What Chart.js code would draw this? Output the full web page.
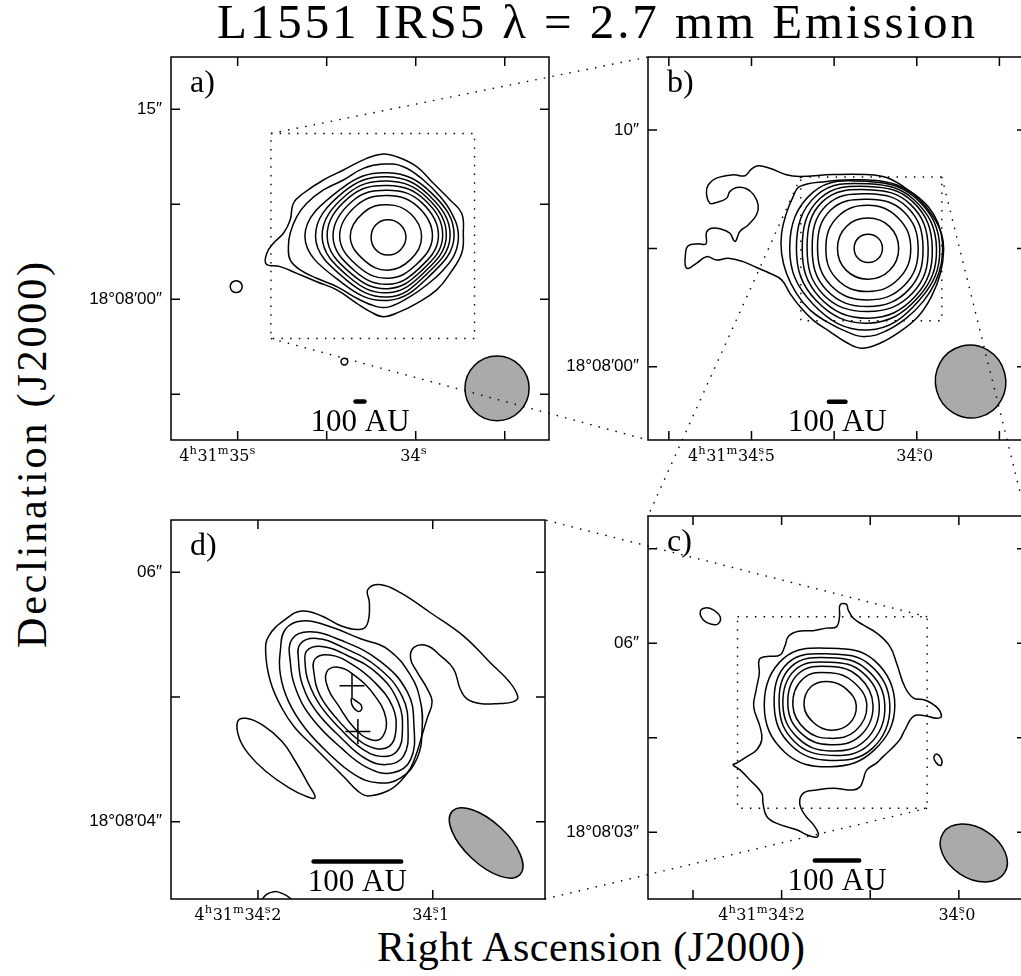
<!DOCTYPE html>
<html>
<head>
<meta charset="utf-8">
<title>L1551 IRS5 2.7 mm Emission</title>
<script src="https://cdn.jsdelivr.net/npm/chart.js@4/dist/chart.umd.min.js"></script>
<style>
  html, body { margin:0; padding:0; background:#fff; }
  body { width:1021px; height:976px; overflow:hidden; position:relative; }
  .pc { position:absolute; }
  #overlay { position:absolute; left:0; top:0; pointer-events:none; }
  #texts { position:absolute; left:0; top:0; }
</style>
</head>
<body>
<svg id="texts" width="1021" height="976" xmlns="http://www.w3.org/2000/svg" font-family="'Liberation Serif', 'DejaVu Serif', serif" fill="#000">
  <text x="217" y="38" font-size="49" textLength="758" lengthAdjust="spacing">L1551 IRS5 λ = 2.7 mm Emission</text>
  <text x="377" y="961" font-size="42" textLength="428" lengthAdjust="spacing">Right Ascension (J2000)</text>
  <text transform="translate(46,648) rotate(-90)" font-size="42" textLength="386" lengthAdjust="spacing">Declination (J2000)</text>
</svg>
<canvas id="panelA" class="pc"></canvas>
<canvas id="panelB" class="pc"></canvas>
<canvas id="panelC" class="pc"></canvas>
<canvas id="panelD" class="pc"></canvas>
<canvas id="overlay" width="1021" height="976"></canvas>
<script>
// Coordinates: x = RA offset in arcsec (east positive) from 4h31m34.0s, y = Dec offset in arcsec from 18°08'00"
const RA_REF_SEC = 34.0;
const ARCSEC_PER_RA_SEC = 14.2545;
const AU100_ARCSEC = 0.714;

// ---------- axis ranges (arcsec) ----------
const xRangeA = [-10.67, 19.59], yRangeA = [-11.11, 19.13];
const xRangeB = [-4.71, 11.59],  yRangeB = [-3.10, 13.09];
const xRangeC = [-1.08, 5.00],   yRangeC = [1.94, 8.02];
const xRangeD = [0.51, 3.56],    yRangeD = [3.38, 6.42];

// ---------- ticks ----------
const raTicksA = [35, 34.5, 34, 33.5];
const raLabelsA = ['4h31m35s', '', '34s', ''];
const decTicksA = [15, 7.5, 0, -7.5];
const decLabelsA = ['15″', '', '18°08′00″', ''];

const raTicksB = [34.75, 34.5, 34.25, 34.0, 33.75];
const raLabelsB = ['', '4h31m34s.5', '', '34s.0', ''];
const decTicksB = [10, 5, 0];
const decLabelsB = ['10″', '', '18°08′00″'];

const raTicksC = [34.3, 34.2, 34.1, 34.0];
const raLabelsC = ['', '4h31m34s.2', '', '34s.0'];
const decTicksC = [7.5, 6, 4.5, 3];
const decLabelsC = ['', '06″', '', '18°08′03″'];

const raTicksD = [34.2, 34.1];
const raLabelsD = ['4h31m34s.2', '34s.1'];
const decTicksD = [6, 5, 4];
const decLabelsD = ['06″', '', '18°08′04″'];

// ---------- contour rings given as radii (arcsec) at these position angles on the map ----------
const ringAngles = [0, 45, 90, 135, 180, 225, 270, 315];

// ---------- panel a ----------
const contourA1 = [[2.59,11.47],[1.52,11.26],[-0.08,10.47],[-1.41,9.16],[-2.75,7.84],[-3.68,6.79],[-3.81,5.21],[-3.68,3.63],[-2.75,2.05],[-1.68,0.74],[-0.08,-0.32],[1.25,-0.97],[2.59,-1.37],[3.65,-0.97],[4.72,-0.32],[6.32,0.74],[7.92,1.39],[9.52,2.05],[10.85,2.58],[11.97,2.79],[11.92,3.63],[11.39,4.42],[10.59,5.21],[10.05,6.26],[9.79,7.58],[8.99,8.37],[7.39,9.42],[5.79,10.21],[3.92,11.13]];
const contourA2 = [[2.59,10.68],[0.99,10.47],[-0.61,9.42],[-1.95,8.11],[-2.88,6.79],[-3.41,5.21],[-3.15,3.63],[-2.21,2.32],[-0.88,1.13],[0.45,0.21],[2.05,-0.58],[3.12,-0.58],[4.72,0.08],[6.32,1.00],[7.92,1.66],[9.25,2.32],[10.05,3.11],[10.19,4.16],[10.05,5.21],[9.52,6.53],[8.72,7.58],[7.39,8.63],[5.79,9.42],[4.19,10.34]];
const ringCenterA = [2.24, 4.95];
const ringRadiiA = [
  [5.31,4.91,5.04,5.31,6.63,5.17,5.04,4.56],
  [4.99,4.64,4.72,4.99,5.78,4.77,4.77,4.30],
  [4.69,4.40,4.38,4.67,5.25,4.46,4.43,4.06],
  [4.40,4.14,4.03,4.38,4.85,4.14,4.11,3.82],
  [4.06,3.82,3.66,3.98,4.38,3.79,3.77,3.55],
  [3.58,3.37,3.24,3.50,3.85,3.34,3.29,3.18],
  [2.71,2.57,2.52,2.71,3.00,2.65,2.65,2.57],
  [1.46,1.38,1.33,1.33,1.33,1.41,1.46,1.46]
];
const isoCentersA = [[14.37, 1.00], [5.71, -4.92]];
const isoRadiiA = [0.48, 0.27];
const beamA = [-6.51, -7.03, 5.15, 5.10, 0];   // x, y, bmaj, bmin, PA
const auBarA = [4.46, -8.08];

// ---------- panel b ----------
const contourB1 = [[5.04,8.04],[3.61,8.12],[2.17,8.12],[1.31,8.00],[0.59,7.62],[-0.13,7.05],[-0.70,6.35],[-1.06,5.64],[-1.16,4.94],[-1.02,3.95],[-0.63,2.96],[-0.06,2.12],[0.73,1.48],[1.59,0.99],[2.39,0.78],[3.03,1.02],[3.75,1.48],[4.47,1.97],[5.04,2.54],[5.47,3.10],[5.83,3.67],[6.34,3.95],[6.91,4.19],[7.49,4.44],[8.13,4.58],[8.64,4.51],[9.07,4.65],[9.50,4.37],[9.93,4.16],[9.97,4.80],[9.86,5.11],[9.43,5.19],[9.09,5.19],[9.07,5.67],[8.85,5.85],[8.42,5.81],[8.06,5.64],[7.84,5.29],[7.63,5.71],[7.27,5.99],[6.91,6.42],[6.84,6.84],[7.03,7.26],[7.34,7.52],[7.77,7.57],[8.06,7.40],[8.20,7.12],[8.64,6.94],[8.92,6.91],[9.07,7.33],[8.99,7.69],[8.64,7.97],[7.92,8.11],[7.41,8.07],[7.13,8.35],[6.84,8.49],[6.34,8.39],[5.62,8.11]];
const contourB2 = [[5.04,7.62],[3.89,7.83],[2.74,7.90],[1.74,7.87],[0.88,7.69],[0.16,7.33],[-0.49,6.77],[-0.92,6.06],[-1.11,5.22],[-1.06,4.37],[-0.78,3.53],[-0.27,2.75],[0.45,2.05],[1.31,1.52],[2.24,1.27],[3.03,1.48],[3.89,1.90],[4.61,2.40],[5.19,3.10],[5.62,3.95],[5.83,4.80],[5.83,5.64],[5.62,6.49],[5.33,7.19]];
const ringCenterB = [2.10, 5.01];
const ringRadiiB = [
  [0.62,0.61,0.59,0.60,0.60,0.61,0.61,0.62],
  [1.32,1.30,1.27,1.31,1.32,1.33,1.31,1.32],
  [1.84,1.82,1.81,1.86,1.82,1.88,1.83,1.85],
  [2.16,2.18,2.07,2.28,2.18,2.25,2.19,2.22],
  [2.37,2.42,2.30,2.55,2.41,2.52,2.47,2.48],
  [2.59,2.60,2.47,2.78,2.63,2.75,2.68,2.70],
  [2.77,2.75,2.61,2.95,2.84,2.95,2.96,2.88],
  [2.95,2.85,2.72,3.15,3.09,3.15,3.17,3.00],
  [3.09,2.95,2.82,3.35,3.38,3.35,3.46,3.12]
];
const beamB = [-2.32, -0.63, 3.12, 3.00, 15];
const auBarB = [3.43, -1.48];

// ---------- panel c ----------
const contourC1 = [[1.91,6.61],[1.81,6.62],[1.78,6.53],[1.70,6.40],[1.54,6.29],[1.32,6.16],[1.11,5.95],[1.00,5.68],[0.87,5.31],[0.73,5.13],[0.55,5.10],[0.36,4.99],[0.28,4.84],[0.36,4.81],[0.55,4.85],[0.73,4.84],[0.87,4.62],[0.95,4.47],[1.08,4.33],[1.22,4.20],[1.32,4.10],[1.48,3.99],[1.54,3.83],[1.59,3.72],[1.70,3.67],[2.02,3.70],[2.29,3.67],[2.50,3.62],[2.56,3.46],[2.48,3.28],[2.34,3.12],[2.26,2.98],[2.29,2.92],[2.45,2.96],[2.61,3.04],[2.93,3.14],[3.09,3.25],[3.15,3.46],[3.17,3.62],[3.36,3.83],[3.52,3.99],[3.63,4.07],[3.57,4.10],[3.41,4.20],[3.25,4.31],[3.17,4.47],[3.20,4.68],[3.30,4.99],[3.26,5.26],[3.21,5.52],[3.21,5.74],[3.09,5.79],[2.88,5.81],[2.80,5.95],[2.74,6.11],[2.58,6.19],[2.34,6.20],[2.13,6.24],[1.97,6.26],[1.92,6.42]];
const contourC2 = [[4.16,6.50],[4.08,6.56],[3.95,6.53],[3.84,6.42],[3.87,6.31],[3.98,6.30],[4.11,6.37]];
const contourC3 = [[0.40,4.20],[0.35,4.24],[0.28,4.16],[0.28,4.07],[0.33,4.07],[0.39,4.14]];
const ringCenterC = [2.07, 5.01];
const ringRadiiC = [
  [0.42,0.37,0.38,0.43,0.42,0.38,0.39,0.42],
  [0.59,0.53,0.52,0.61,0.60,0.55,0.52,0.57],
  [0.69,0.65,0.62,0.72,0.68,0.64,0.62,0.68],
  [0.79,0.74,0.69,0.80,0.76,0.73,0.72,0.79],
  [0.88,0.82,0.76,0.88,0.82,0.81,0.79,0.88],
  [0.96,0.91,0.82,0.96,0.90,0.89,0.87,0.96],
  [1.04,1.01,0.91,1.06,1.06,1.04,0.97,1.00]
];
const beamC = [-0.24, 2.67, 1.17, 0.80, 57];
const auBarC = [1.96, 2.55];

// ---------- panel d ----------
const contourD1 = [[1.955,5.862],[1.848,5.901],[1.686,5.835],[1.444,5.676],[1.176,5.491],[0.960,5.279],[0.799,5.120],[0.732,5.001],[0.772,4.961],[0.880,4.948],[1.041,4.948],[1.149,4.988],[1.202,5.067],[1.256,5.226],[1.364,5.332],[1.471,5.412],[1.579,5.398],[1.606,5.306],[1.552,5.200],[1.471,5.067],[1.431,4.961],[1.471,4.829],[1.512,4.696],[1.552,4.564],[1.606,4.432],[1.686,4.326],[1.794,4.246],[1.955,4.207],[2.036,4.246],[2.143,4.352],[2.278,4.485],[2.412,4.617],[2.546,4.749],[2.654,4.908],[2.748,5.120],[2.788,5.359],[2.762,5.491],[2.627,5.623],[2.493,5.690],[2.331,5.650],[2.170,5.570],[2.009,5.544],[1.955,5.597],[1.942,5.756]];
const contourD2 = [[3.017,4.802],[2.950,4.829],[2.815,4.776],[2.654,4.643],[2.546,4.485],[2.439,4.299],[2.385,4.193],[2.466,4.207],[2.600,4.273],[2.788,4.405],[2.923,4.538],[3.003,4.670]];
const contourD3open = [[2.842,3.333],[2.788,3.411],[2.721,3.439],[2.654,3.425],[2.587,3.386],[2.546,3.333]];
const ringD1 = [[2.627,5.544],[2.493,5.610],[2.278,5.570],[2.009,5.465],[1.794,5.385],[1.606,5.173],[1.525,4.961],[1.512,4.749],[1.552,4.511],[1.686,4.352],[1.874,4.312],[2.063,4.378],[2.278,4.551],[2.466,4.749],[2.600,4.961],[2.667,5.173],[2.667,5.385]];
const ringD2 = [[2.573,5.465],[2.426,5.523],[2.184,5.459],[1.861,5.292],[1.633,5.041],[1.579,4.776],[1.606,4.498],[1.753,4.392],[1.955,4.432],[2.170,4.590],[2.399,4.816],[2.533,5.041],[2.587,5.279]];
const ringD3 = [[2.506,5.425],[2.372,5.470],[2.157,5.398],[1.874,5.239],[1.673,5.001],[1.627,4.749],[1.665,4.524],[1.807,4.458],[1.982,4.511],[2.170,4.670],[2.372,4.882],[2.487,5.094],[2.520,5.292]];
const ringD4 = [[2.452,5.372],[2.331,5.406],[2.130,5.337],[1.874,5.186],[1.708,4.961],[1.673,4.723],[1.719,4.564],[1.848,4.524],[2.009,4.590],[2.184,4.749],[2.345,4.935],[2.439,5.120],[2.466,5.266]];
const ringD5 = [[2.385,5.306],[2.264,5.337],[2.090,5.266],[1.901,5.120],[1.753,4.922],[1.727,4.723],[1.780,4.604],[1.901,4.590],[2.049,4.670],[2.210,4.829],[2.345,5.014],[2.393,5.186]];
const ringD6 = [[2.291,5.200],[2.197,5.239],[2.063,5.173],[1.901,5.014],[1.807,4.829],[1.834,4.683],[1.928,4.657],[2.063,4.749],[2.197,4.935],[2.278,5.067]];
const tinyD = [[2.084,4.988],[2.049,4.967],[2.009,4.935],[2.009,4.895],[2.041,4.887],[2.076,4.922],[2.090,4.961]];
const crossD = [[2.084,5.091],[2.036,4.723]];
const beamD = [0.99, 3.83, 0.75, 0.34, 47];
const auBarD = [2.04, 3.68];

// ================= drawing =================
const PAD = {left:130, right:10, top:10, bottom:40};
const BOX_W = 378, BOX_H = 383;
const boxOrigin = {panelA:[171,57], panelB:[648,57], panelC:[648,516], panelD:[171,516]};
const TICK_LEN = 9;
const LINE_W = 1.5;

function raToX(s){ return (s - RA_REF_SEC) * ARCSEC_PER_RA_SEC; }
function toPts(arr){ return arr.map(p => ({x:p[0], y:p[1]})); }
function ringPts(center, radii){
  return radii.map((r, i) => {
    const t = ringAngles[i] * Math.PI / 180;
    return {x: center[0] - r * Math.cos(t), y: center[1] + r * Math.sin(t)};
  });
}
function contourDs(points, closed){
  return {data: points, closed: closed, showLine: true, borderColor:'#000', borderWidth:LINE_W,
          pointRadius:0, pointHoverRadius:0, tension:0.42, fill:false};
}
function barDs(c){
  return {data:[{x:c[0]+AU100_ARCSEC/2, y:c[1]}, {x:c[0]-AU100_ARCSEC/2, y:c[1]}], showLine:true,
          borderColor:'#000', borderWidth:4.5, borderCapStyle:'round', pointRadius:0, tension:0, fill:false};
}

const panelCfg = {};

function drawRaLabel(ctx, label, tickPx, baseline){
  const BIG = '16px "DejaVu Serif"', SMALL = '11.5px "DejaVu Serif"';
  const parts = [];
  for (const ch of label){
    if ('hms'.includes(ch)) parts.push({t:ch, sup:true});
    else if (ch === '.') parts[parts.length-1].dot = true;
    else {
      const last = parts[parts.length-1];
      if (last && !last.sup) last.t += ch; else parts.push({t:ch, sup:false});
    }
  }
  let total = 0;
  parts.forEach(p => { ctx.font = p.sup ? SMALL : BIG; p.w = ctx.measureText(p.t).width + (p.sup ? 0.5 : 0); total += p.w; });
  const shift = label.includes('h') ? -20 : -2;
  let x = tickPx - total / 2 + shift;
  ctx.textAlign = 'left'; ctx.textBaseline = 'alphabetic'; ctx.fillStyle = '#000';
  parts.forEach(p => {
    if (p.sup){
      ctx.font = SMALL; ctx.fillText(p.t, x, baseline - 7);
      if (p.dot){ ctx.font = BIG; const dw = ctx.measureText('.').width; ctx.fillText('.', x + p.w/2 - dw/2, baseline); }
    } else { ctx.font = BIG; ctx.fillText(p.t, x, baseline); }
    x += p.w;
  });
}

const decoPlugin = {
  id: 'deco',
  afterDatasetUpdate(chart, args){
    const ds = chart.data.datasets[args.index];
    const el = args.meta && args.meta.dataset;
    if (ds.closed && el){
      el._loop = true; el._fullLoop = true; el._pointsUpdated = false;
      el._segments = undefined; el._path = undefined;
    }
  },
  afterDatasetsDraw(chart){
    const P = panelCfg[chart.canvas.id];
    const ctx = chart.ctx, xs = chart.scales.x, ys = chart.scales.y;
    const b = P.beam;
    const sx = Math.abs(xs.getPixelForValue(1) - xs.getPixelForValue(0));
    const sy = Math.abs(ys.getPixelForValue(1) - ys.getPixelForValue(0));
    const s = (sx + sy) / 2;
    ctx.save();
    ctx.beginPath();
    ctx.ellipse(xs.getPixelForValue(b[0]), ys.getPixelForValue(b[1]), b[3]/2*s, b[2]/2*s, -b[4]*Math.PI/180, 0, Math.PI*2);
    ctx.fillStyle = '#aaaaaa'; ctx.fill();
    ctx.lineWidth = LINE_W; ctx.strokeStyle = '#000'; ctx.stroke();
    ctx.restore();
  },
  afterDraw(chart){
    const P = panelCfg[chart.canvas.id];
    const ctx = chart.ctx, a = chart.chartArea, xs = chart.scales.x, ys = chart.scales.y;
    ctx.save();
    ctx.strokeStyle = '#000'; ctx.lineWidth = LINE_W; ctx.setLineDash([]);
    ctx.strokeRect(a.left, a.top, a.right - a.left, a.bottom - a.top);
    ctx.beginPath();
    P.raTicks.forEach(sec => {
      const px = xs.getPixelForValue(raToX(sec));
      ctx.moveTo(px, a.bottom); ctx.lineTo(px, a.bottom - TICK_LEN);
      ctx.moveTo(px, a.top); ctx.lineTo(px, a.top + TICK_LEN);
    });
    P.decTicks.forEach(d => {
      const py = ys.getPixelForValue(d);
      ctx.moveTo(a.left, py); ctx.lineTo(a.left + TICK_LEN, py);
      ctx.moveTo(a.right, py); ctx.lineTo(a.right - TICK_LEN, py);
    });
    ctx.stroke();
    // tick labels
    P.raTicks.forEach((sec, i) => { if (P.raLabels[i]) drawRaLabel(ctx, P.raLabels[i], xs.getPixelForValue(raToX(sec)), a.bottom + 21); });
    ctx.font = '17px "Liberation Sans", "DejaVu Sans", sans-serif';
    ctx.textAlign = 'right'; ctx.textBaseline = 'middle'; ctx.fillStyle = '#000';
    P.decTicks.forEach((d, i) => { if (P.decLabels[i]) ctx.fillText(P.decLabels[i], a.left - 9, ys.getPixelForValue(d)); });
    // zoom box (range of next panel)
    if (P.zoomBox){
      const z = P.zoomBox;
      const x1 = xs.getPixelForValue(z[0]), x2 = xs.getPixelForValue(z[1]);
      const y1 = ys.getPixelForValue(z[2]), y2 = ys.getPixelForValue(z[3]);
      ctx.setLineDash([1.5, 7.2]); ctx.lineWidth = 1.4;
      ctx.beginPath();
      ctx.rect(Math.min(x1,x2), Math.min(y1,y2), Math.abs(x2-x1), Math.abs(y2-y1));
      ctx.stroke();
      ctx.setLineDash([]);
    }
    // panel letter
    ctx.font = '32px "Liberation Serif", "DejaVu Serif", serif';
    ctx.textAlign = 'left'; ctx.textBaseline = 'alphabetic';
    ctx.fillText(P.letter, a.left + 19, a.top + 35);
    // scale bar label
    ctx.font = '31px "Liberation Serif", "DejaVu Serif", serif';
    ctx.textAlign = 'center';
    ctx.fillText('100 AU', xs.getPixelForValue(P.auBar[0]), ys.getPixelForValue(P.auBar[1]) + 29);
    ctx.restore();
  }
};

function makeChart(id, cfg){
  panelCfg[id] = cfg;
  const cv = document.getElementById(id);
  cv.width = PAD.left + BOX_W + PAD.right;
  cv.height = PAD.top + BOX_H + PAD.bottom;
  cv.style.left = (boxOrigin[id][0] - PAD.left) + 'px';
  cv.style.top = (boxOrigin[id][1] - PAD.top) + 'px';
  const datasets = [];
  cfg.closed.forEach(pts => datasets.push(contourDs(pts, true)));
  (cfg.open || []).forEach(pts => datasets.push(contourDs(pts, false)));
  datasets.push(barDs(cfg.auBar));
  if (cfg.iso){
    datasets.push({data: toPts(cfg.iso.centers), showLine:false, pointStyle:'circle',
      pointRadius: ctx => cfg.iso.radii[ctx.dataIndex] * Math.abs(ctx.chart.scales.x.getPixelForValue(1) - ctx.chart.scales.x.getPixelForValue(0)),
      pointBorderColor:'#000', pointBackgroundColor:'rgba(0,0,0,0)', pointBorderWidth:LINE_W, pointHoverRadius:0});
  }
  if (cfg.crosses){
    datasets.push({data: toPts(cfg.crosses), showLine:false, pointStyle:'cross', pointRadius:12.5,
      pointBorderColor:'#000', pointBorderWidth:LINE_W, pointHoverRadius:0});
  }
  return new Chart(cv, {
    type: 'line',
    data: {datasets},
    options: {
      responsive:false, animation:false, devicePixelRatio:1,
      events: [],
      layout: {padding: PAD},
      elements: {line: {capBezierPoints:false}},
      plugins: {legend:{display:false}, tooltip:{enabled:false}},
      scales: {
        x: {type:'linear', reverse:true, min:cfg.xr[0], max:cfg.xr[1], display:false},
        y: {type:'linear', min:cfg.yr[0], max:cfg.yr[1], display:false}
      }
    },
    plugins: [decoPlugin]
  });
}

const chA = makeChart('panelA', {
  letter:'a)', xr:xRangeA, yr:yRangeA, raTicks:raTicksA, raLabels:raLabelsA, decTicks:decTicksA, decLabels:decLabelsA,
  closed:[toPts(contourA1), toPts(contourA2)].concat(ringRadiiA.map(r => ringPts(ringCenterA, r))),
  iso:{centers:isoCentersA, radii:isoRadiiA}, beam:beamA, auBar:auBarA,
  zoomBox:[xRangeB[0], xRangeB[1], yRangeB[0], yRangeB[1]]
});
const chB = makeChart('panelB', {
  letter:'b)', xr:xRangeB, yr:yRangeB, raTicks:raTicksB, raLabels:raLabelsB, decTicks:decTicksB, decLabels:decLabelsB,
  closed:[toPts(contourB1), toPts(contourB2)].concat(ringRadiiB.map(r => ringPts(ringCenterB, r))),
  beam:beamB, auBar:auBarB,
  zoomBox:[xRangeC[0], xRangeC[1], yRangeC[0], yRangeC[1]]
});
const chC = makeChart('panelC', {
  letter:'c)', xr:xRangeC, yr:yRangeC, raTicks:raTicksC, raLabels:raLabelsC, decTicks:decTicksC, decLabels:decLabelsC,
  closed:[toPts(contourC1), toPts(contourC2), toPts(contourC3)].concat(ringRadiiC.map(r => ringPts(ringCenterC, r))),
  beam:beamC, auBar:auBarC,
  zoomBox:[xRangeD[0], xRangeD[1], yRangeD[0], yRangeD[1]]
});
const chD = makeChart('panelD', {
  letter:'d)', xr:xRangeD, yr:yRangeD, raTicks:raTicksD, raLabels:raLabelsD, decTicks:decTicksD, decLabels:decLabelsD,
  closed:[toPts(contourD1), toPts(contourD2), toPts(ringD1), toPts(ringD2), toPts(ringD3), toPts(ringD4), toPts(ringD5), toPts(ringD6), toPts(tinyD)],
  open:[toPts(contourD3open)],
  crosses:crossD, beam:beamD, auBar:auBarD
});

// dotted connectors: the same sky position shown in two panels
function pagePx(ch, p){
  const c = ch.canvas;
  return [parseFloat(c.style.left) + ch.scales.x.getPixelForValue(p[0]), parseFloat(c.style.top) + ch.scales.y.getPixelForValue(p[1])];
}
(function drawConnectors(){
  const ov = document.getElementById('overlay').getContext('2d');
  ov.setLineDash([1.5, 7.2]); ov.lineWidth = 1.4; ov.strokeStyle = '#000';
  const links = [
    [chA, chB, [[xRangeB[1], yRangeB[1]], [xRangeB[1], yRangeB[0]]]],
    [chB, chC, [[xRangeC[1], yRangeC[1]], [xRangeC[0], yRangeC[1]]]],
    [chC, chD, [[xRangeD[0], yRangeD[1]], [xRangeD[0], yRangeD[0]]]]
  ];
  links.forEach(([c1, c2, pts]) => pts.forEach(p => {
    const s = pagePx(c1, p), e = pagePx(c2, p);
    ov.beginPath(); ov.moveTo(s[0], s[1]); ov.lineTo(e[0], e[1]); ov.stroke();
  }));
})();
</script>
</body>
</html>
